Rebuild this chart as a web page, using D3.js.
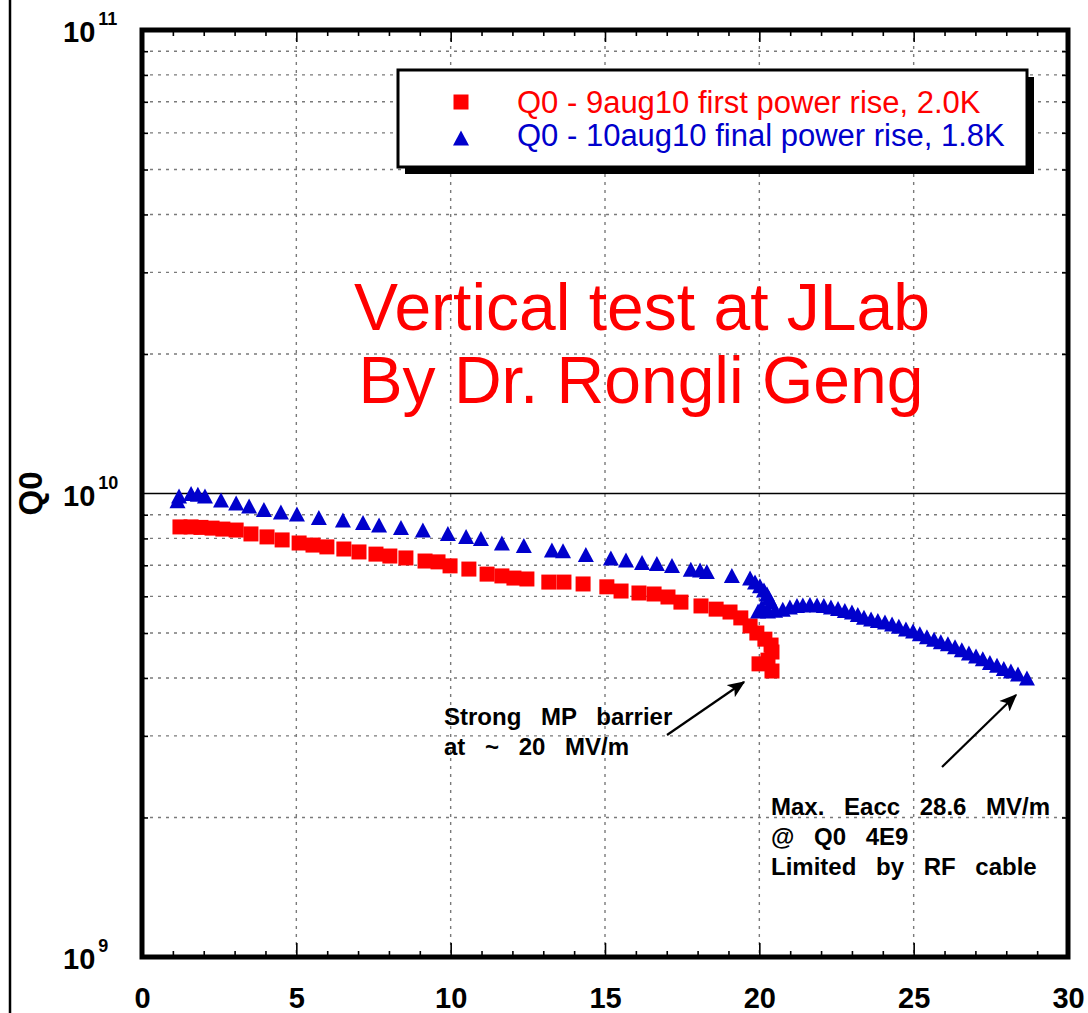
<!DOCTYPE html>
<html>
<head>
<meta charset="utf-8">
<title>Q0 vs Eacc</title>
<style>
    body { margin: 0; background: white; }
    text { font-family: "Liberation Sans", Arial, Helvetica, sans-serif; }
    .grid line { stroke: #7a7a7a; stroke-width: 1.4; stroke-dasharray: 3,5; }
    .tick line { stroke: black; stroke-width: 1.6; }
    .note { font-weight: bold; font-size: 24px; word-spacing: 13px; }
</style>
</head>
<body>
<div id="chart"></div>
<script src="https://cdn.jsdelivr.net/npm/d3@7/dist/d3.min.js"></script>
<script>
// 9aug10 first power rise, 2.0K  (Eacc MV/m, Q0)
const redX = [1.23, 1.59, 1.91, 2.27, 2.62, 3.05, 3.53, 4.05, 4.54, 5.09, 5.54, 5.99, 6.54, 7.03,
    7.58, 8.03, 8.55, 9.17, 9.59, 9.98, 10.59, 11.18, 11.66, 12.05, 12.47, 13.18, 13.67, 14.29,
    15.06, 15.52, 16.10, 16.59, 17.04, 17.46, 18.11, 18.60, 19.05, 19.40, 19.70, 19.92, 20.18,
    20.38, 20.41, 20.28, 19.99, 20.41]
const redQ = [8.47e9, 8.47e9, 8.45e9, 8.42e9, 8.38e9, 8.34e9, 8.18e9, 8.06e9, 7.94e9, 7.82e9, 7.74e9,
    7.67e9, 7.59e9, 7.48e9, 7.40e9, 7.33e9, 7.26e9, 7.15e9, 7.12e9, 6.98e9, 6.87e9, 6.70e9, 6.64e9,
    6.57e9, 6.54e9, 6.44e9, 6.44e9, 6.38e9, 6.29e9, 6.16e9, 6.10e9, 6.07e9, 5.98e9, 5.83e9, 5.72e9,
    5.63e9, 5.55e9, 5.39e9, 5.18e9, 5.00e9, 4.85e9, 4.71e9, 4.55e9, 4.37e9, 4.29e9, 4.14e9]

// 10aug10 final power rise, 1.8K
const blueX = [1.15, 1.20, 1.59, 1.81, 2.04, 2.56, 3.05, 3.47, 3.95, 4.50, 5.02, 5.73, 6.51, 7.16,
    7.68, 8.39, 9.10, 9.91, 10.50, 10.98, 11.66, 12.37, 13.28, 13.64, 14.38, 15.19, 15.68, 16.20,
    16.68, 17.17, 17.78, 18.08, 18.30, 19.11,
    19.70, 19.86, 20.02, 20.15, 20.25, 20.31, 20.38, 20.08, 19.96, 20.28, 20.51,
    20.76, 20.99, 21.22, 21.41, 21.64, 21.87, 22.09, 22.32, 22.55, 22.77, 23.00, 23.19, 23.39,
    23.62, 23.84, 24.07, 24.30, 24.52, 24.75, 24.98, 25.20, 25.43, 25.66, 25.88, 26.11, 26.34,
    26.56, 26.79, 27.02, 27.24, 27.47, 27.70, 27.92, 28.15, 28.38, 28.67]
const blueQ = [9.65e9, 9.88e9, 10.0e9, 9.96e9, 9.88e9, 9.68e9, 9.54e9, 9.40e9, 9.24e9, 9.12e9, 9.03e9,
    8.88e9, 8.77e9, 8.66e9, 8.55e9, 8.45e9, 8.34e9, 8.20e9, 8.08e9, 8.00e9, 7.82e9, 7.72e9, 7.55e9,
    7.52e9, 7.39e9, 7.26e9, 7.19e9, 7.10e9, 7.06e9, 6.99e9, 6.86e9, 6.84e9, 6.79e9, 6.65e9,
    6.57e9, 6.44e9, 6.32e9, 6.19e9, 6.07e9, 5.95e9, 5.83e9, 5.69e9, 5.58e9, 5.58e9, 5.60e9,
    5.63e9, 5.69e9, 5.73e9, 5.75e9, 5.76e9, 5.75e9, 5.73e9, 5.69e9, 5.65e9, 5.59e9, 5.55e9, 5.48e9,
    5.41e9, 5.36e9, 5.32e9, 5.28e9, 5.23e9, 5.17e9, 5.10e9, 5.05e9, 4.98e9, 4.91e9, 4.85e9, 4.79e9,
    4.74e9, 4.67e9, 4.60e9, 4.53e9, 4.46e9, 4.40e9, 4.32e9, 4.26e9, 4.19e9, 4.14e9, 4.08e9, 4.00e9]

const xTicks = [0, 5, 10, 15, 20, 25, 30]
const xMinor = [1, 2, 3, 4, 6, 7, 8, 9, 11, 12, 13, 14, 16, 17, 18, 19, 21, 22, 23, 24, 26, 27, 28, 29]
const yDecades = [9, 10, 11]
const yMinor = [2e9, 3e9, 4e9, 5e9, 6e9, 7e9, 8e9, 9e9, 2e10, 3e10, 4e10, 5e10, 6e10, 7e10, 8e10, 9e10]

const legendLabels = ["Q0 - 9aug10 first power rise, 2.0K", "Q0 - 10aug10 final power rise, 1.8K"]
const colors = ["#ff0000", "#0000cc"]

let width = 1088, height = 1013
let pLeft = 142, pRight = 1068, pTop = 30, pBottom = 957

let svg = d3.select("#chart").append("svg")
    .attr("width", width)
    .attr("height", height)

let x = d3.scaleLinear().domain([0, 30]).range([pLeft, pRight])
let y = d3.scaleLog().domain([1e9, 1e11]).range([pBottom, pTop])

// thin page border on the left
svg.append("line")
    .attr("x1", 10).attr("x2", 10)
    .attr("y1", 0).attr("y2", height)
    .attr("stroke", "black").attr("stroke-width", 2.5)

// grid
let grid = svg.append("g").attr("class", "grid")
grid.selectAll(".h").data(yMinor).enter().append("line")
    .attr("x1", pLeft).attr("x2", pRight)
    .attr("y1", d => y(d)).attr("y2", d => y(d))
grid.selectAll(".v").data(xTicks.slice(1, -1)).enter().append("line")
    .attr("x1", d => x(d)).attr("x2", d => x(d))
    .attr("y1", pTop).attr("y2", pBottom)

// solid line at 1e10
svg.append("line")
    .attr("x1", pLeft).attr("x2", pRight)
    .attr("y1", y(1e10)).attr("y2", y(1e10))
    .attr("stroke", "black").attr("stroke-width", 1.5)

// ticks (inward)
function noDomain(g) { g.select(".domain").remove() }

svg.append("g").attr("transform", "translate(0," + pBottom + ")")
    .call(d3.axisBottom(x).tickValues(xMinor).tickSize(-6).tickFormat(""))
    .call(noDomain)
let xAxis = svg.append("g").attr("transform", "translate(0," + pBottom + ")")
    .call(d3.axisBottom(x).tickValues(xTicks).tickSize(-14).tickPadding(30))
    .call(noDomain)
xAxis.selectAll("text")
    .attr("font-size", 29).attr("font-weight", "bold")
    .attr("font-family", "'Liberation Sans', Arial, sans-serif")
    .attr("fill", "black")

svg.append("g").attr("transform", "translate(0," + pTop + ")")
    .call(d3.axisTop(x).tickValues(xMinor).tickSize(-6).tickFormat(""))
    .call(noDomain)
svg.append("g").attr("transform", "translate(0," + pTop + ")")
    .call(d3.axisTop(x).tickValues(xTicks).tickSize(-12).tickFormat(""))
    .call(noDomain)

svg.append("g").attr("transform", "translate(" + pLeft + ",0)")
    .call(d3.axisLeft(y).tickValues(yMinor).tickSize(-6).tickFormat(""))
    .call(noDomain)
svg.append("g").attr("transform", "translate(" + pRight + ",0)")
    .call(d3.axisRight(y).tickValues(yMinor).tickSize(-6).tickFormat(""))
    .call(noDomain)

// frame
svg.append("rect")
    .attr("x", pLeft).attr("y", pTop)
    .attr("width", pRight - pLeft).attr("height", pBottom - pTop)
    .attr("fill", "none").attr("stroke", "black").attr("stroke-width", 5)

// y tick labels 10^n
let yLab = svg.selectAll(".ylab").data(yDecades).enter().append("text")
    .attr("x", 63)
    .attr("y", d => y(Math.pow(10, d)) + 12)
    .attr("font-size", 29).attr("font-weight", "bold")
yLab.append("tspan").text("10")
yLab.append("tspan")
    .attr("dx", 3).attr("dy", -17)
    .attr("font-size", 18)
    .text(d => d)

// y axis title
svg.append("text")
    .attr("transform", "translate(42," + y(1e10) + ") rotate(-90)")
    .attr("text-anchor", "middle")
    .attr("font-size", 33).attr("font-weight", "bold")
    .text("Q0")

// data
let redPts = redX.map((d, i) => [d, redQ[i]])
let bluePts = blueX.map((d, i) => [d, blueQ[i]])
let sq = 15
let triW = 16, triH = 15
let triPath = "M0," + (-triH / 2) + "L" + (triW / 2) + "," + (triH / 2) + "L" + (-triW / 2) + "," + (triH / 2) + "Z"

svg.append("g").selectAll("rect").data(redPts).enter().append("rect")
    .attr("x", d => x(d[0]) - sq / 2)
    .attr("y", d => y(d[1]) - sq / 2)
    .attr("width", sq).attr("height", sq)
    .attr("fill", colors[0])

svg.append("g").selectAll("path").data(bluePts).enter().append("path")
    .attr("transform", d => "translate(" + x(d[0]) + "," + y(d[1]) + ")")
    .attr("d", triPath)
    .attr("fill", colors[1])

// legend
let legend = svg.append("g")
legend.append("rect")
    .attr("x", 405).attr("y", 77).attr("width", 629).attr("height", 97)
    .attr("fill", "black")
legend.append("rect")
    .attr("x", 398).attr("y", 70).attr("width", 629).attr("height", 97)
    .attr("fill", "white").attr("stroke", "black").attr("stroke-width", 3)
legend.append("rect")
    .attr("x", 461 - sq / 2).attr("y", 102 - sq / 2)
    .attr("width", sq).attr("height", sq)
    .attr("fill", colors[0])
legend.append("path")
    .attr("transform", "translate(461,138)")
    .attr("d", triPath)
    .attr("fill", colors[1])
legend.selectAll(".lt").data(legendLabels).enter().append("text")
    .attr("x", 517)
    .attr("y", (d, i) => 113 + i * 33)
    .attr("font-size", 31)
    .attr("fill", (d, i) => colors[i])
    .text(d => d)

// big red note
svg.append("text")
    .attr("x", 642).attr("y", 330)
    .attr("text-anchor", "middle")
    .attr("font-size", 66).attr("fill", "#ff0000")
    .text("Vertical test at JLab")
svg.append("text")
    .attr("x", 641).attr("y", 403)
    .attr("text-anchor", "middle")
    .attr("font-size", 66).attr("fill", "#ff0000")
    .text("By Dr. Rongli Geng")

// annotations
svg.append("defs").append("marker")
    .attr("id", "arrow")
    .attr("viewBox", "0 0 12 10")
    .attr("refX", 11).attr("refY", 5)
    .attr("markerWidth", 8).attr("markerHeight", 7)
    .attr("markerUnits", "strokeWidth")
    .attr("orient", "auto")
    .append("path")
    .attr("d", "M0,0 L12,5 L0,10 L3,5 Z")
    .attr("fill", "black")

svg.append("line")
    .attr("x1", 667).attr("y1", 735).attr("x2", 744).attr("y2", 682)
    .attr("stroke", "black").attr("stroke-width", 2.2)
    .attr("marker-end", "url(#arrow)")
svg.append("line")
    .attr("x1", 942).attr("y1", 767).attr("x2", 1016).attr("y2", 695)
    .attr("stroke", "black").attr("stroke-width", 2.2)
    .attr("marker-end", "url(#arrow)")

let note1 = ["Strong MP barrier", "at ~ 20 MV/m"]
let note2 = ["Max. Eacc 28.6 MV/m", "@ Q0 4E9", "Limited by RF cable"]
svg.selectAll(".n1").data(note1).enter().append("text")
    .attr("class", "note")
    .attr("x", 444).attr("y", (d, i) => 725 + i * 30)
    .text(d => d)
svg.selectAll(".n2").data(note2).enter().append("text")
    .attr("class", "note")
    .attr("x", 771).attr("y", (d, i) => 815 + i * 30)
    .text(d => d)
</script>
</body>
</html>
